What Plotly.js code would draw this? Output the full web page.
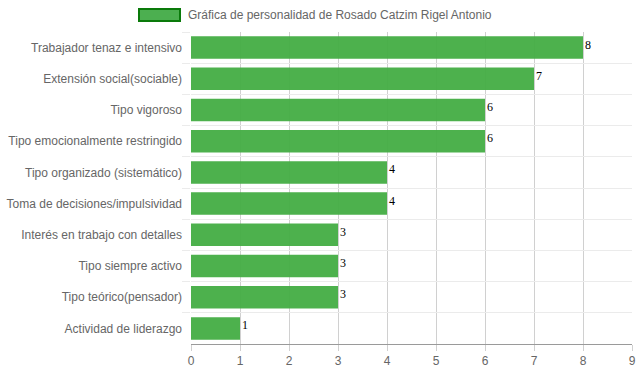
<!DOCTYPE html>
<html><head><meta charset="utf-8">
<script src="https://cdn.plot.ly/plotly-3.0.1.min.js"></script>
<style>html,body{margin:0;padding:0;background:#fff}#chart{width:639px;height:372px}</style>
</head><body><div id="chart"></div>
<script>
const categories = [
  "Trabajador tenaz e intensivo",
  "Extensión social(sociable)",
  "Tipo vigoroso",
  "Tipo emocionalmente restringido",
  "Tipo organizado (sistemático)",
  "Toma de decisiones/impulsividad",
  "Interés en trabajo con detalles",
  "Tipo siempre activo",
  "Tipo teórico(pensador)",
  "Actividad de liderazgo"
];
const values = [8, 7, 6, 6, 4, 4, 3, 3, 3, 1];
const seriesName = "Gráfica de personalidad de Rosado Catzim Rigel Antonio";
const xTicks = [0,1,2,3,4,5,6,7,8,9];

const W = 639, H = 372;
const M = {l: 191, r: 7, t: 32, b: 28};
const pw = W - M.l - M.r, ph = H - M.t - M.b;
const px = x => (x - M.l) / pw;
const py = y => (H - M.b - y) / ph;

const trace = {
  type: 'bar', orientation: 'h',
  y: categories, x: values,
  name: seriesName,
  marker: {color: 'rgba(66,172,66,0.94)', line: {width: 0}},
  hoverinfo: 'none'
};

const valueLabels = values.map((v, i) => ({
  x: v, y: categories[i], xref: 'x', yref: 'y',
  xanchor: 'left', yanchor: 'middle', xshift: 0, yshift: 3,
  showarrow: false, text: String(v),
  font: {family: 'Liberation Serif, serif', size: 12, color: '#000'}
}));

const layout = {
  width: W, height: H,
  margin: M,
  paper_bgcolor: '#fff', plot_bgcolor: '#fff',
  showlegend: false,
  bargap: 0.28,
  font: {family: 'Liberation Sans, Arial, sans-serif', size: 12, color: '#666'},
  xaxis: {
    range: [0, 9], tickvals: xTicks, ticktext: xTicks.map(String),
    showgrid: true, gridcolor: '#d0d0d0', gridwidth: 1,
    zeroline: false,
    showline: true, linecolor: '#9a9a9a', linewidth: 1,
    ticks: 'outside', ticklen: 6, tickcolor: '#d0d0d0',
    tickfont: {size: 12, color: '#666'},
    fixedrange: true
  },
  yaxis: {
    type: 'category', autorange: 'reversed',
    tickson: 'boundaries',
    showgrid: true, gridcolor: '#ebebeb', gridwidth: 1,
    showline: false, zeroline: false,
    ticks: 'outside', ticklen: 8, tickcolor: '#ebebeb',
    ticklabelstandoff: 8,
    tickfont: {size: 12, color: '#666'},
    fixedrange: true
  },
  shapes: [{
    type: 'rect', xref: 'paper', yref: 'paper',
    x0: px(139), x1: px(180), y0: py(21), y1: py(9),
    fillcolor: 'rgba(76,175,80,1)', line: {color: '#0a7a0a', width: 2}
  }],
  annotations: [{
    xref: 'paper', yref: 'paper', x: px(186), y: py(15),
    xanchor: 'left', yanchor: 'middle', showarrow: false,
    text: seriesName, font: {size: 12, color: '#666'}
  }].concat(valueLabels)
};

Plotly.newPlot('chart', [trace], layout, {displayModeBar: false, staticPlot: true});
</script></body></html>
